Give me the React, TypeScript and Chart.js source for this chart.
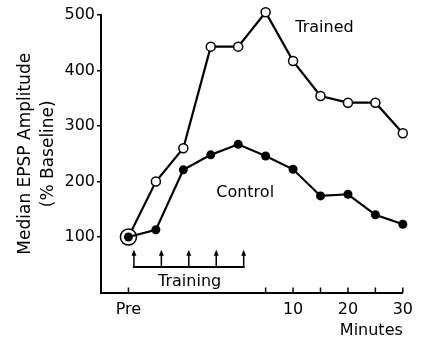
import { useEffect, useRef } from "react";
import { Chart, registerables } from "chart.js";
Chart.register(...registerables);

const xIndex = [0, 1, 2, 3, 4, 5, 6, 7, 8, 9, 10];
const trained = [100, 200, 260, 443, 443, 505, 417, 354, 342, 342, 287];
const control = [100, 113, 221, 248, 267, 246, 222, 174, 177, 140, 123];
const xTickValues = [0, 5, 6, 7, 8, 9, 10];
const xTickLabels: Record<number, string> = { 0: "Pre", 6: "10", 8: "20", 10: "30" };
const yTickValues = [100, 200, 300, 400, 500];
const trainingArrows = [0.2, 1.2, 2.2, 3.2, 4.2];
const trainingBase = 46;
const trainingTip = 77;
const trainingLabel = { text: "Training", x: 2.23, y: 20 };
const seriesLabels = [
  { text: "Trained", x: 6.08, y: 477 },
  { text: "Control", x: 3.2, y: 179 },
];

const FONT = "'DejaVu Sans', sans-serif";

const annotPlugin = {
  id: "annot",
  afterDraw(chart: any) {
    const { ctx, scales } = chart;
    const x = scales.x, y = scales.y;
    ctx.save();
    ctx.strokeStyle = "#000";
    ctx.fillStyle = "#000";
    ctx.lineWidth = 1.5;
    const yb = y.getPixelForValue(0);
    xTickValues.forEach((v) => {
      const px = x.getPixelForValue(v);
      ctx.beginPath();
      ctx.moveTo(px, yb);
      ctx.lineTo(px, yb - 5);
      ctx.stroke();
    });
    const by = y.getPixelForValue(trainingBase);
    const ty = y.getPixelForValue(trainingTip);
    const x0 = x.getPixelForValue(trainingArrows[0]);
    const x1 = x.getPixelForValue(trainingArrows[trainingArrows.length - 1]);
    ctx.lineWidth = 2;
    ctx.beginPath();
    ctx.moveTo(x0 - 1, by);
    ctx.lineTo(x1 + 1, by);
    ctx.stroke();
    ctx.lineWidth = 1.5;
    trainingArrows.forEach((v) => {
      const px = x.getPixelForValue(v);
      ctx.beginPath();
      ctx.moveTo(px, by);
      ctx.lineTo(px, ty + 4);
      ctx.stroke();
      ctx.beginPath();
      ctx.moveTo(px, ty);
      ctx.lineTo(px - 2.5, ty + 6);
      ctx.lineTo(px + 2.5, ty + 6);
      ctx.closePath();
      ctx.fill();
    });
    ctx.font = `16px ${FONT}`;
    ctx.textBaseline = "middle";
    ctx.textAlign = "center";
    ctx.fillText(trainingLabel.text, x.getPixelForValue(trainingLabel.x), y.getPixelForValue(trainingLabel.y));
    ctx.textAlign = "left";
    seriesLabels.forEach((l) => {
      ctx.fillText(l.text, x.getPixelForValue(l.x), y.getPixelForValue(l.y));
    });
    ctx.restore();
  },
};

export default function App() {
  const ref = useRef<HTMLCanvasElement>(null);
  useEffect(() => {
    if (!ref.current) return;
    const chart = new Chart(ref.current, {
      type: "line",
      data: {
        datasets: [
          {
            label: "Control",
            data: xIndex.map((v, i) => ({ x: v, y: control[i] })),
            borderColor: "#000",
            backgroundColor: "#000",
            borderWidth: 2.2,
            pointRadius: 4.5,
            pointBorderWidth: 0,
            pointBackgroundColor: "#000",
            clip: false as any,
            order: 0,
          },
          {
            label: "Trained",
            data: xIndex.map((v, i) => ({ x: v, y: trained[i] })),
            borderColor: "#000",
            backgroundColor: "#fff",
            borderWidth: 2.2,
            pointRadius: xIndex.map((_, i) => (i === 0 ? 8 : 4.5)),
            pointBorderWidth: 1.5,
            pointBackgroundColor: "#fff",
            pointBorderColor: "#000",
            clip: false as any,
            order: 1,
          },
        ],
      },
      options: {
        animation: false,
        responsive: false,
        layout: { padding: { top: 15, right: 14, left: 0, bottom: 0 } },
        plugins: { legend: { display: false }, tooltip: { enabled: false } },
        scales: {
          x: {
            type: "linear",
            min: -1,
            max: 10,
            afterBuildTicks: (s: any) => {
              s.ticks = xTickValues.map((v) => ({ value: v }));
            },
            afterFit: (s: any) => {
              s.height = 53.5;
            },
            ticks: {
              autoSkip: false,
              maxRotation: 0,
              padding: 8,
              color: "#000",
              font: { family: FONT, size: 16 },
              callback: (v: any) => xTickLabels[v as number] ?? "",
            },
            grid: { display: true, drawOnChartArea: false, drawTicks: false, color: "#000" },
            border: { display: true, color: "#000", width: 2 },
            title: {
              display: true,
              text: "Minutes",
              align: "end",
              color: "#000",
              font: { family: FONT, size: 16 },
              padding: { top: 0, bottom: 6 },
            },
          },
          y: {
            min: 0,
            max: 500,
            afterBuildTicks: (s: any) => {
              s.ticks = yTickValues.map((v) => ({ value: v }));
            },
            afterFit: (s: any) => {
              s.width = 101;
            },
            ticks: {
              padding: 2,
              color: "#000",
              font: { family: FONT, size: 16 },
            },
            grid: { display: true, drawOnChartArea: false, drawTicks: true, tickLength: 4, color: "#000", lineWidth: 1.5 },
            border: { display: true, color: "#000", width: 2 },
            title: {
              display: true,
              text: ["Median EPSP Amplitude", "(% Baseline)"],
              color: "#000",
              font: { family: FONT, size: 17, lineHeight: 1.3 },
              padding: { top: 15, bottom: 0 },
            },
          },
        },
      },
      plugins: [annotPlugin],
    } as any);
    return () => chart.destroy();
  }, []);
  return (
    <div style={{ position: "fixed", left: 0, top: 0, width: 421, height: 346, background: "#fff" }}>
      <canvas ref={ref} width={421} height={346} style={{ display: "block" }} />
    </div>
  );
}
